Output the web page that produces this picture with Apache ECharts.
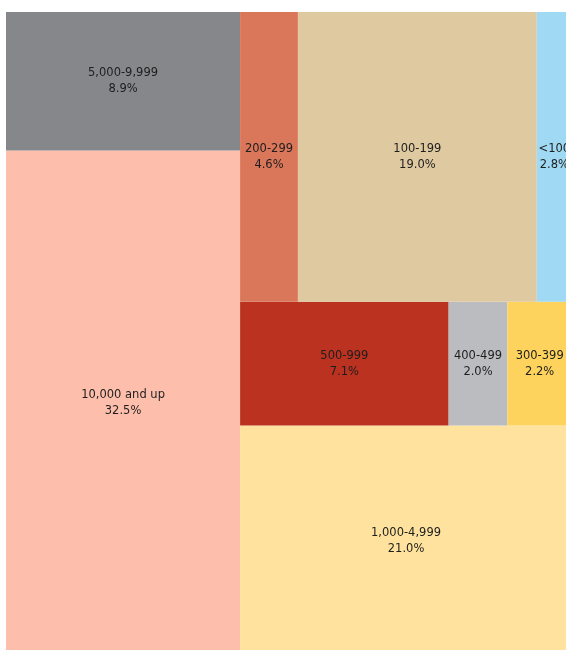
<!DOCTYPE html>
<html>
<head>
<meta charset="utf-8">
<script src="https://cdn.jsdelivr.net/npm/echarts@6/dist/echarts.min.js"></script>
<style>
    html, body { margin: 0; padding: 0; background: #ffffff; }
    #chart { width: 566px; height: 650px; }
</style>
</head>
<body>
<div id="chart"></div>
<script>
// 数据：各区间名称和占比（%）
var categories = ['10,000 and up', '5,000-9,999', '1,000-4,999', '500-999', '400-499',
    '300-399', '200-299', '100-199', '<100'];
var shares = [32.5, 8.9, 21.0, 7.1, 2.0, 2.2, 4.6, 19.0, 2.8];

// 颜色
var palette = ['#fdbfab', '#86878b', '#fee29d', '#bc3220', '#bbbcc0',
    '#fdd35d', '#da7659', '#dfc9a0', '#a0d9f3'];

// squarify 布局（100 x 100 的数据空间，y 轴向上）
function layoutRow(sizes, x, y, dx, dy) {
    var covered = sizes.reduce(function (a, b) { return a + b; }, 0);
    var width = covered / dy;
    return sizes.map(function (s) {
        var r = { x: x, y: y, dx: width, dy: s / width };
        y += s / width;
        return r;
    });
}
function layoutCol(sizes, x, y, dx, dy) {
    var covered = sizes.reduce(function (a, b) { return a + b; }, 0);
    var height = covered / dx;
    return sizes.map(function (s) {
        var r = { x: x, y: y, dx: s / height, dy: height };
        x += s / height;
        return r;
    });
}
function layout(sizes, x, y, dx, dy) {
    return dx >= dy ? layoutRow(sizes, x, y, dx, dy) : layoutCol(sizes, x, y, dx, dy);
}
function leftover(sizes, x, y, dx, dy) {
    var covered = sizes.reduce(function (a, b) { return a + b; }, 0);
    if (dx >= dy) {
        var w = covered / dy;
        return [x + w, y, dx - w, dy];
    }
    var h = covered / dx;
    return [x, y + h, dx, dy - h];
}
function worstRatio(sizes, x, y, dx, dy) {
    return Math.max.apply(null, layout(sizes, x, y, dx, dy).map(function (r) {
        return Math.max(r.dx / r.dy, r.dy / r.dx);
    }));
}
function squarify(sizes, x, y, dx, dy) {
    if (sizes.length === 0) return [];
    if (sizes.length === 1) return layout(sizes, x, y, dx, dy);
    var i = 1;
    while (i < sizes.length &&
        worstRatio(sizes.slice(0, i), x, y, dx, dy) >= worstRatio(sizes.slice(0, i + 1), x, y, dx, dy)) {
        i++;
    }
    var current = sizes.slice(0, i);
    var rest = leftover(current, x, y, dx, dy);
    return layout(current, x, y, dx, dy).concat(squarify(sizes.slice(i), rest[0], rest[1], rest[2], rest[3]));
}

var total = shares.reduce(function (a, b) { return a + b; }, 0);
var normed = shares.map(function (v) { return v * 100 * 100 / total; });
var rects = squarify(normed, 0, 0, 100, 100);

var cells = rects.map(function (r, i) {
    return [r.x, r.y, r.dx, r.dy, i];
});

var myChart = echarts.init(document.getElementById('chart'));

var option = {
    backgroundColor: '#ffffff',
    animation: false,
    grid: { left: 6, top: 12, width: 566, height: 644, outerBoundsMode: 'none', containLabel: false },
    xAxis: { type: 'value', min: 0, max: 100, show: false },
    yAxis: { type: 'value', min: 0, max: 100, show: false },
    series: [{
        type: 'custom',
        clip: false,
        data: cells,
        renderItem: function (params, api) {
            var x = api.value(0), y = api.value(1), dx = api.value(2), dy = api.value(3);
            var idx = api.value(4);
            var p0 = api.coord([x, y + dy]);
            var p1 = api.coord([x + dx, y]);
            return {
                type: 'rect',
                shape: { x: p0[0], y: p0[1], width: p1[0] - p0[0], height: p1[1] - p0[1] },
                style: { fill: palette[idx], stroke: null },
                textContent: {
                    style: {
                        text: categories[idx] + '\n' + shares[idx].toFixed(1) + '%',
                        fill: '#1e1e1e',
                        fontFamily: 'DejaVu Sans',
                        fontSize: 11.5,
                        lineHeight: 16,
                        align: 'center'
                    }
                },
                textConfig: { position: 'inside' }
            };
        }
    }]
};

myChart.setOption(option, true);
</script>
</body>
</html>
